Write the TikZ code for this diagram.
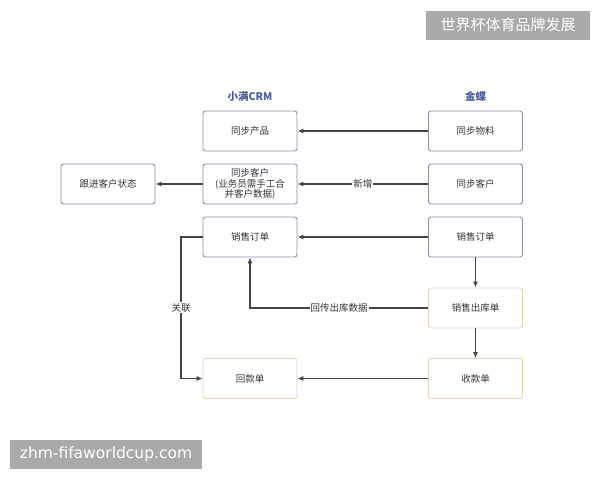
\documentclass[tikz,border=0pt]{standalone}
\usepackage{fontspec}
\setmainfont{Noto Sans CJK SC}
\usetikzlibrary{arrows.meta}
\definecolor{bluebd}{HTML}{8790AE}
\definecolor{beigebd}{HTML}{E6D5B3}
\definecolor{linec}{HTML}{444444}
\definecolor{headc}{HTML}{4B5C9C}
\definecolor{wmgray}{HTML}{A9A9A9}
\tikzset{
  box/.style={draw=bluebd, line width=0.9pt, rounded corners=2.5pt, minimum width=94pt, minimum height=40pt, inner sep=1pt, font=\fontsize{9.5}{11}\selectfont, text=black!80, align=center},
  bbox/.style={box, draw=beigebd},
  conn/.style={draw=linec, line width=1.1pt, -{Latex[length=6pt,width=5pt]}},
  lbl/.style={fill=white, inner sep=1pt, font=\fontsize{9.5}{11}\selectfont, text=black!80},
  head/.style={font=\fontsize{10.5}{12}\selectfont\bfseries, text=headc},
  wm/.style={fill=wmgray, text=white, inner sep=0pt}
}
\begin{document}
\begin{tikzpicture}[x=1pt,y=-1pt]
\useasboundingbox (0,0) rectangle (600,480);
\node[wm, minimum width=164pt, minimum height=29pt, font=\fontsize{15}{17}\selectfont] (wm1) at (508,25) {世界杯体育品牌发展};
\node[wm, minimum width=192pt, minimum height=29pt, font=\fontsize{15.5}{17}\selectfont] (wm2) at (106,454.5) {\fontspec{DejaVu Sans}zhm-fifaworldcup.com};
\node[head] (hcrm) at (250,96) {小满CRM};
\node[head] (hjd) at (475.5,96) {金蝶};
\node[box] (cp) at (250,131) {同步产品};
\node[box] (wl) at (475.5,131) {同步物料};
\node[box, font=\fontsize{9.5}{10.5}\selectfont] (kh) at (250,184) {同步客户\\(业务员需手工合\\并客户数据)};
\node[box] (kh2) at (475.5,184) {同步客户};
\node[box] (gj) at (108,184) {跟进客户状态};
\node[box] (dd) at (250,237) {销售订单};
\node[box] (dd2) at (475.5,237) {销售订单};
\node[bbox] (ck) at (475.5,308) {销售出库单};
\node[bbox] (hk) at (250,378.5) {回款单};
\node[bbox] (sk) at (475.5,378.5) {收款单};
\coordinate (c1) at (181,237);
\coordinate (c2) at (181,378.5);
\coordinate (c3) at (250,308);
\draw[conn] (wl) -- (cp);
\draw[conn] (kh2) -- node[lbl] {新增} (kh);
\draw[conn] (kh) -- (gj);
\draw[conn] (dd2) -- (dd);
\draw[conn] (dd2) -- (ck);
\draw[conn] (ck) -- (sk);
\draw[conn] (sk) -- (hk);
\draw[conn] (ck.west) -- node[lbl] {回传出库数据} (c3) -- (dd.south);
\draw[conn] (dd.west) -- (c1) -- node[lbl] {关联} (c2) -- (hk.west);
\end{tikzpicture}
\end{document}
